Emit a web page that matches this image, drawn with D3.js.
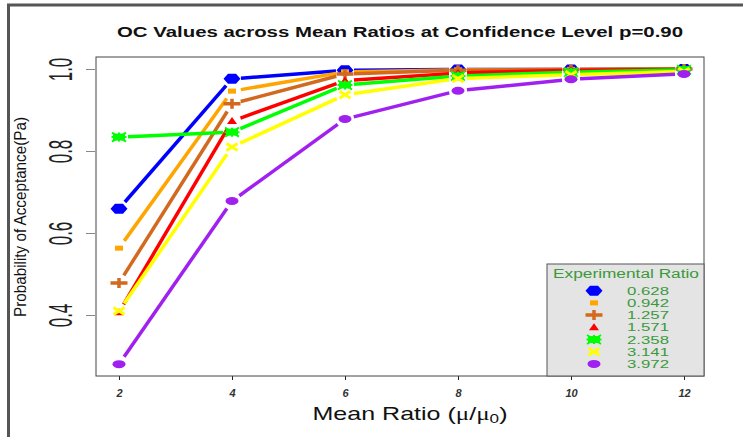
<!DOCTYPE html>
<html>
<head>
<meta charset="utf-8">
<script src="https://cdn.jsdelivr.net/npm/d3@7"></script>
<style>
  body { margin: 0; background: #fff; }
  svg { display: block; font-family: "Liberation Sans", Arial, sans-serif; }
</style>
</head>
<body>
<svg id="chart" width="743" height="437"></svg>
<script>
const meanRatios = [2, 4, 6, 8, 10, 12];
const ratioLabels = ["0.628", "0.942", "1.257", "1.571", "2.358", "3.141", "3.972"];
const oc0628 = [0.659, 0.976, 0.997, 0.999, 0.999, 1.000];
const oc0942 = [0.563, 0.946, 0.993, 0.998, 0.999, 1.000];
const oc1257 = [0.478, 0.915, 0.988, 0.997, 0.999, 1.000];
const oc1571 = [0.407, 0.873, 0.972, 0.990, 0.997, 0.999];
const oc2358 = [0.834, 0.846, 0.961, 0.983, 0.992, 0.998];
const oc3141 = [0.410, 0.810, 0.937, 0.977, 0.986, 0.994];
const oc3972 = [0.280, 0.678, 0.878, 0.947, 0.975, 0.988];
const yTicks = [0.4, 0.6, 0.8, 1.0];

const seriesValues = [oc0628, oc0942, oc1257, oc1571, oc2358, oc3141, oc3972];
const colors = ["#0000ff", "#ffa500", "#d2691e", "#ff0000", "#00ff00", "#ffff00", "#a020f0"];
const shapes = ["hex", "square", "plus", "triangle", "star", "cross", "circle"];

const series = ratioLabels.map((name, i) => ({
    name,
    color: colors[i],
    shape: shapes[i],
    points: meanRatios.map((m, j) => ({ m, v: seriesValues[i][j] }))
}));

const svg = d3.select("#chart");

// outer frame (dark gray edges)
svg.append("line").attr("x1", 8.5).attr("x2", 8.5).attr("y1", 4).attr("y2", 437)
    .attr("stroke", "#555").attr("stroke-width", 3);
svg.append("line").attr("x1", 7).attr("x2", 743).attr("y1", 5).attr("y2", 5)
    .attr("stroke", "#555").attr("stroke-width", 3);

const box = { left: 96, right: 704, top: 57, bottom: 376 };

const x = d3.scaleLinear().domain([2, 12]).range([119, 684]);
const y = d3.scaleLinear().domain([0.4, 1.0]).range([315, 69]);

svg.append("text")
    .attr("x", 400).attr("y", 37)
    .attr("text-anchor", "middle")
    .attr("font-size", "14px").attr("font-weight", "bold")
    .attr("textLength", 566).attr("lengthAdjust", "spacingAndGlyphs")
    .attr("fill", "#111")
    .text("OC Values across Mean Ratios at Confidence Level p=0.90");

// y axis
const yAxis = svg.append("g")
    .attr("transform", `translate(${box.left},0)`)
    .call(d3.axisLeft(y).tickValues(yTicks).tickSize(10).tickFormat(d3.format(".1f")));
yAxis.select(".domain").remove();
yAxis.selectAll(".tick line").attr("stroke", "#888").attr("x2", -10).attr("x1", -1);
yAxis.selectAll(".tick text")
    .attr("x", null).attr("dy", null)
    .attr("text-anchor", "middle")
    .attr("font-size", "34px")
    .attr("fill", "#222")
    .attr("transform", "translate(-24,0) rotate(-90) scale(0.5,1)");

// x axis
const xAxis = svg.append("g")
    .attr("transform", `translate(0,${box.bottom})`)
    .call(d3.axisBottom(x).tickValues(meanRatios).tickSize(4).tickPadding(9));
xAxis.select(".domain").remove();
xAxis.selectAll(".tick line").attr("stroke", "#222");
xAxis.selectAll(".tick text")
    .attr("font-size", "11px").attr("font-weight", "bold").attr("font-style", "italic")
    .attr("fill", "#333");

// axis titles
const xTitle = svg.append("text")
    .attr("x", 410).attr("y", 420)
    .attr("text-anchor", "middle")
    .attr("font-size", "19px").attr("fill", "#111")
    .attr("textLength", 195).attr("lengthAdjust", "spacingAndGlyphs");
xTitle.append("tspan").text("Mean Ratio (");
xTitle.append("tspan").attr("font-family", "'Liberation Serif', serif").text("μ");
xTitle.append("tspan").text("/");
xTitle.append("tspan").attr("font-family", "'Liberation Serif', serif").text("μ");
xTitle.append("tspan").attr("font-size", "13px").attr("dy", 3).text("0");
xTitle.append("tspan").attr("dy", -3).text(")");

svg.append("text")
    .attr("transform", "translate(26,217) rotate(-90)")
    .attr("text-anchor", "middle")
    .attr("font-size", "17px").attr("fill", "#111")
    .attr("textLength", 200).attr("lengthAdjust", "spacingAndGlyphs")
    .text("Probability of Acceptance(Pa)");

// markers
function drawMarker(g, shape, color) {
    switch (shape) {
        case "hex":
            g.append("path").attr("d", "M-8.5,0L-4,-5L4,-5L8.5,0L4,5L-4,5Z").attr("fill", color);
            break;
        case "square":
            g.append("rect").attr("x", -4).attr("y", -2.5).attr("width", 8).attr("height", 5).attr("fill", color);
            break;
        case "plus":
            g.append("path").attr("d", "M-8.5,0H8.5M0,-5V5").attr("stroke", color).attr("stroke-width", 3.5);
            break;
        case "triangle":
            g.append("path").attr("d", "M-5,3L5,3L0,-4Z").attr("fill", color);
            break;
        case "star":
            g.append("rect").attr("x", -6).attr("y", -3.5).attr("width", 12).attr("height", 7).attr("fill", color);
            g.append("path").attr("d", "M-7.5,0H7.5M0,-4.5V4.5M-7,-4.5L7,4.5M-7,4.5L7,-4.5")
                .attr("stroke", color).attr("stroke-width", 2);
            break;
        case "cross":
            g.append("path").attr("d", "M-5.5,-3.5L5.5,3.5M-5.5,3.5L5.5,-3.5").attr("stroke", color).attr("stroke-width", 3);
            break;
        case "circle":
            g.append("ellipse").attr("rx", 6.5).attr("ry", 4).attr("fill", color);
            break;
    }
}

// lines with gaps around points (R type = "b")
const gap = 9;
const plot = svg.append("g");
series.forEach(s => {
    const g = plot.append("g");
    for (let i = 0; i < s.points.length - 1; i++) {
        const x1 = x(s.points[i].m), y1 = y(s.points[i].v);
        const x2 = x(s.points[i + 1].m), y2 = y(s.points[i + 1].v);
        const len = Math.hypot(x2 - x1, y2 - y1);
        if (len <= 2 * gap) continue;
        const ux = (x2 - x1) / len, uy = (y2 - y1) / len;
        g.append("line")
            .attr("x1", x1 + ux * gap).attr("y1", y1 + uy * gap)
            .attr("x2", x2 - ux * gap).attr("y2", y2 - uy * gap)
            .attr("stroke", s.color).attr("stroke-width", 3.5);
    }
});
series.forEach(s => {
    s.points.forEach(p => {
        const m = plot.append("g").attr("transform", `translate(${x(p.m)},${y(p.v)})`);
        drawMarker(m, s.shape, s.color);
    });
});

// plot box
svg.append("rect")
    .attr("x", box.left).attr("y", box.top)
    .attr("width", box.right - box.left).attr("height", box.bottom - box.top)
    .attr("fill", "none").attr("stroke", "#444").attr("stroke-width", 1);

// legend
const legend = svg.append("g");
legend.append("rect")
    .attr("x", 547).attr("y", 264).attr("width", 157).attr("height", 112)
    .attr("fill", "#e4e4e4").attr("stroke", "#555").attr("stroke-width", 1);
legend.append("text")
    .attr("x", 626).attr("y", 278)
    .attr("text-anchor", "middle")
    .attr("font-size", "12px").attr("fill", "#3a9a3a")
    .attr("textLength", 146).attr("lengthAdjust", "spacingAndGlyphs")
    .text("Experimental Ratio");
series.forEach((s, i) => {
    const cy = 290.7 + i * 12.2;
    const m = legend.append("g").attr("transform", `translate(594,${cy})`);
    drawMarker(m, s.shape, s.color);
    legend.append("text")
        .attr("x", 627).attr("y", cy + 4)
        .attr("font-size", "11px").attr("fill", "#3a9a3a")
        .attr("textLength", 42).attr("lengthAdjust", "spacingAndGlyphs")
        .text(s.name);
});
</script>
</body>
</html>
